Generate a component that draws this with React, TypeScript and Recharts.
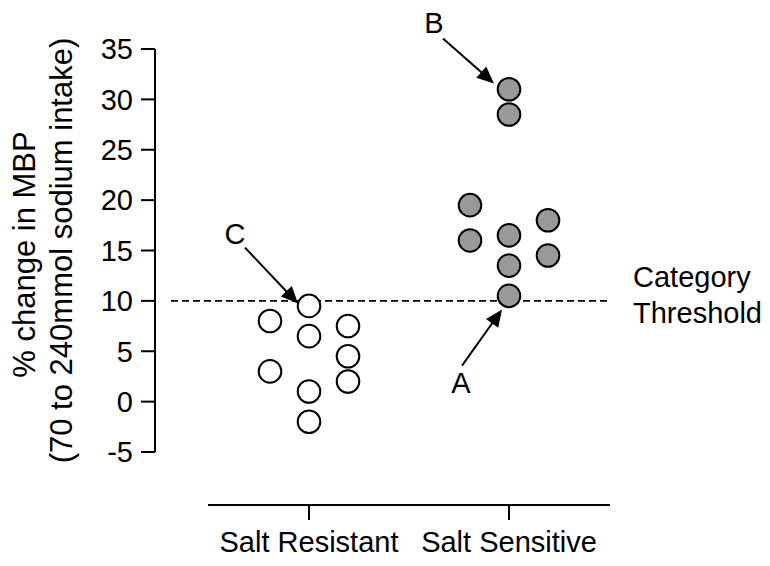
import React from 'react';
import { ScatterChart, Scatter, XAxis, YAxis, ReferenceLine } from 'recharts';

const categories = ['Salt Resistant', 'Salt Sensitive'];
const resistantValues = [9.5, 8, 6.5, 7.5, 4.5, 3, 2, 1, -2];
const resistantColumns = [0, -1, 0, 1, 1, -1, 1, 0, 0];
const sensitiveValues = [31, 28.5, 19.5, 18, 16, 16.5, 14.5, 13.5, 10.5];
const sensitiveColumns = [0, 0, -1, 1, -1, 0, 1, 0, 0];
const yTicks = [-5, 0, 5, 10, 15, 20, 25, 30, 35];
const threshold = 10;
const thresholdLabel = ['Category', 'Threshold'];
const yLabelLines = ['% change in MBP', '(70 to 240mmol sodium intake)'];

const annotationLabels = ['B', 'C', 'A'];
const annotationFrom = [
  { x: 1.67, y: 36.05 },
  { x: 0.68, y: 15.29 },
  { x: 1.765, y: 3.57 },
];
const annotationTo = [
  { x: 1.925, y: 31.58 },
  { x: 0.945, y: 9.73 },
  { x: 1.965, y: 9.14 },
];
const annotationTextOffset = [
  { dx: -9, dy: -5 },
  { dx: -10, dy: -4 },
  { dx: -1, dy: 27 },
];

const COLUMN_SPREAD = 0.195;
const FONT = '"Liberation Sans", Arial, sans-serif';

const resistantData = resistantValues.map((v, i) => ({ x: 1 + resistantColumns[i] * COLUMN_SPREAD, y: v }));
const sensitiveData = sensitiveValues.map((v, i) => ({ x: 2 + sensitiveColumns[i] * COLUMN_SPREAD, y: v }));

const makeCircle = (fill: string) => (props: any) => {
  const { cx, cy } = props;
  if (cx == null || cy == null) return <g />;
  return <circle cx={cx} cy={cy} r={11.3} fill={fill} stroke="#000" strokeWidth={2} />;
};

const XTick = (props: any) => {
  const { x, y, payload } = props;
  const label = categories[Math.round(payload.value) - 1];
  return (
    <g>
      <line x1={x - 101} x2={x + 101} y1={y + 53} y2={y + 53} stroke="#000" strokeWidth={2} />
      <line x1={x} x2={x} y1={y + 53} y2={y + 68} stroke="#000" strokeWidth={2} />
      <text x={x} y={y + 100} textAnchor="middle" fontSize={29} fontFamily={FONT} fill="#000">
        {label}
      </text>
    </g>
  );
};

const YLabel = (props: any) => {
  const vb = props.viewBox || { x: 0, y: 49, width: 155, height: 403 };
  const mid = vb.y + vb.height / 2;
  const cys = [mid + 4, mid];
  const xs = [vb.x + 35, vb.x + 72];
  return (
    <g>
      {yLabelLines.map((t, i) => (
        <text
          key={i}
          x={xs[i]}
          y={cys[i]}
          transform={`rotate(-90 ${xs[i]} ${cys[i]})`}
          textAnchor="middle"
          fontSize={31}
          fontFamily={FONT}
          fill="#000"
        >
          {t}
        </text>
      ))}
    </g>
  );
};

const thresholdShape = (props: any) => {
  const { x1, y1, x2, y2 } = props;
  return (
    <g>
      <line x1={x1} y1={y1} x2={x2} y2={y2} stroke="#000" strokeWidth={1.6} strokeDasharray="7 4" />
      <text x={x2 + 23} y={y2 - 14} fontSize={29} fontFamily={FONT} fill="#000">
        {thresholdLabel[0]}
      </text>
      <text x={x2 + 23} y={y2 + 22} fontSize={29} fontFamily={FONT} fill="#000">
        {thresholdLabel[1]}
      </text>
    </g>
  );
};

const makeArrowShape = (idx: number) => (props: any) => {
  const { x1, y1, x2, y2 } = props;
  const dxl = x2 - x1;
  const dyl = y2 - y1;
  const len = Math.sqrt(dxl * dxl + dyl * dyl) || 1;
  const ux = dxl / len;
  const uy = dyl / len;
  const headLen = 17;
  const headHalf = 7.5;
  const bx = x2 - ux * headLen;
  const by = y2 - uy * headLen;
  const p1 = `${bx - uy * headHalf},${by + ux * headHalf}`;
  const p2 = `${bx + uy * headHalf},${by - ux * headHalf}`;
  const off = annotationTextOffset[idx];
  return (
    <g>
      <line x1={x1} y1={y1} x2={bx + ux * 2} y2={by + uy * 2} stroke="#000" strokeWidth={2} />
      <polygon points={`${x2},${y2} ${p1} ${p2}`} fill="#000" />
      <text x={x1 + off.dx} y={y1 + off.dy} textAnchor="middle" fontSize={29} fontFamily={FONT} fill="#000">
        {annotationLabels[idx]}
      </text>
    </g>
  );
};

export default function App() {
  return (
    <div style={{ position: 'absolute', left: 0, top: 0, fontFamily: FONT }}>
      <ScatterChart width={770} height={566} margin={{ top: 49, right: 160, bottom: 0, left: 0 }}>
        <XAxis
          type="number"
          dataKey="x"
          domain={[0.23, 2.505]}
          ticks={[1, 2]}
          interval={0}
          allowDataOverflow
          axisLine={false}
          tickLine={false}
          tickSize={0}
          tickMargin={0}
          height={114}
          tick={<XTick />}
        />
        <YAxis
          type="number"
          dataKey="y"
          domain={[-5, 35]}
          ticks={yTicks}
          interval={0}
          allowDataOverflow
          width={155}
          tickSize={14}
          tickMargin={8}
          axisLine={{ stroke: '#000', strokeWidth: 2 }}
          tickLine={{ stroke: '#000', strokeWidth: 2 }}
          tick={{ fontSize: 29, fill: '#000', fontFamily: FONT }}
          label={<YLabel />}
        />
        <ReferenceLine
          segment={[{ x: 0.31, y: threshold }, { x: 2.505, y: threshold }]}
          ifOverflow="visible"
          shape={thresholdShape}
        />
        <Scatter data={resistantData} shape={makeCircle('#ffffff')} isAnimationActive={false} />
        <Scatter data={sensitiveData} shape={makeCircle('#999999')} isAnimationActive={false} />
        {annotationLabels.map((l, i) => (
          <ReferenceLine
            key={l}
            segment={[annotationFrom[i], annotationTo[i]]}
            ifOverflow="visible"
            shape={makeArrowShape(i)}
          />
        ))}
      </ScatterChart>
    </div>
  );
}
